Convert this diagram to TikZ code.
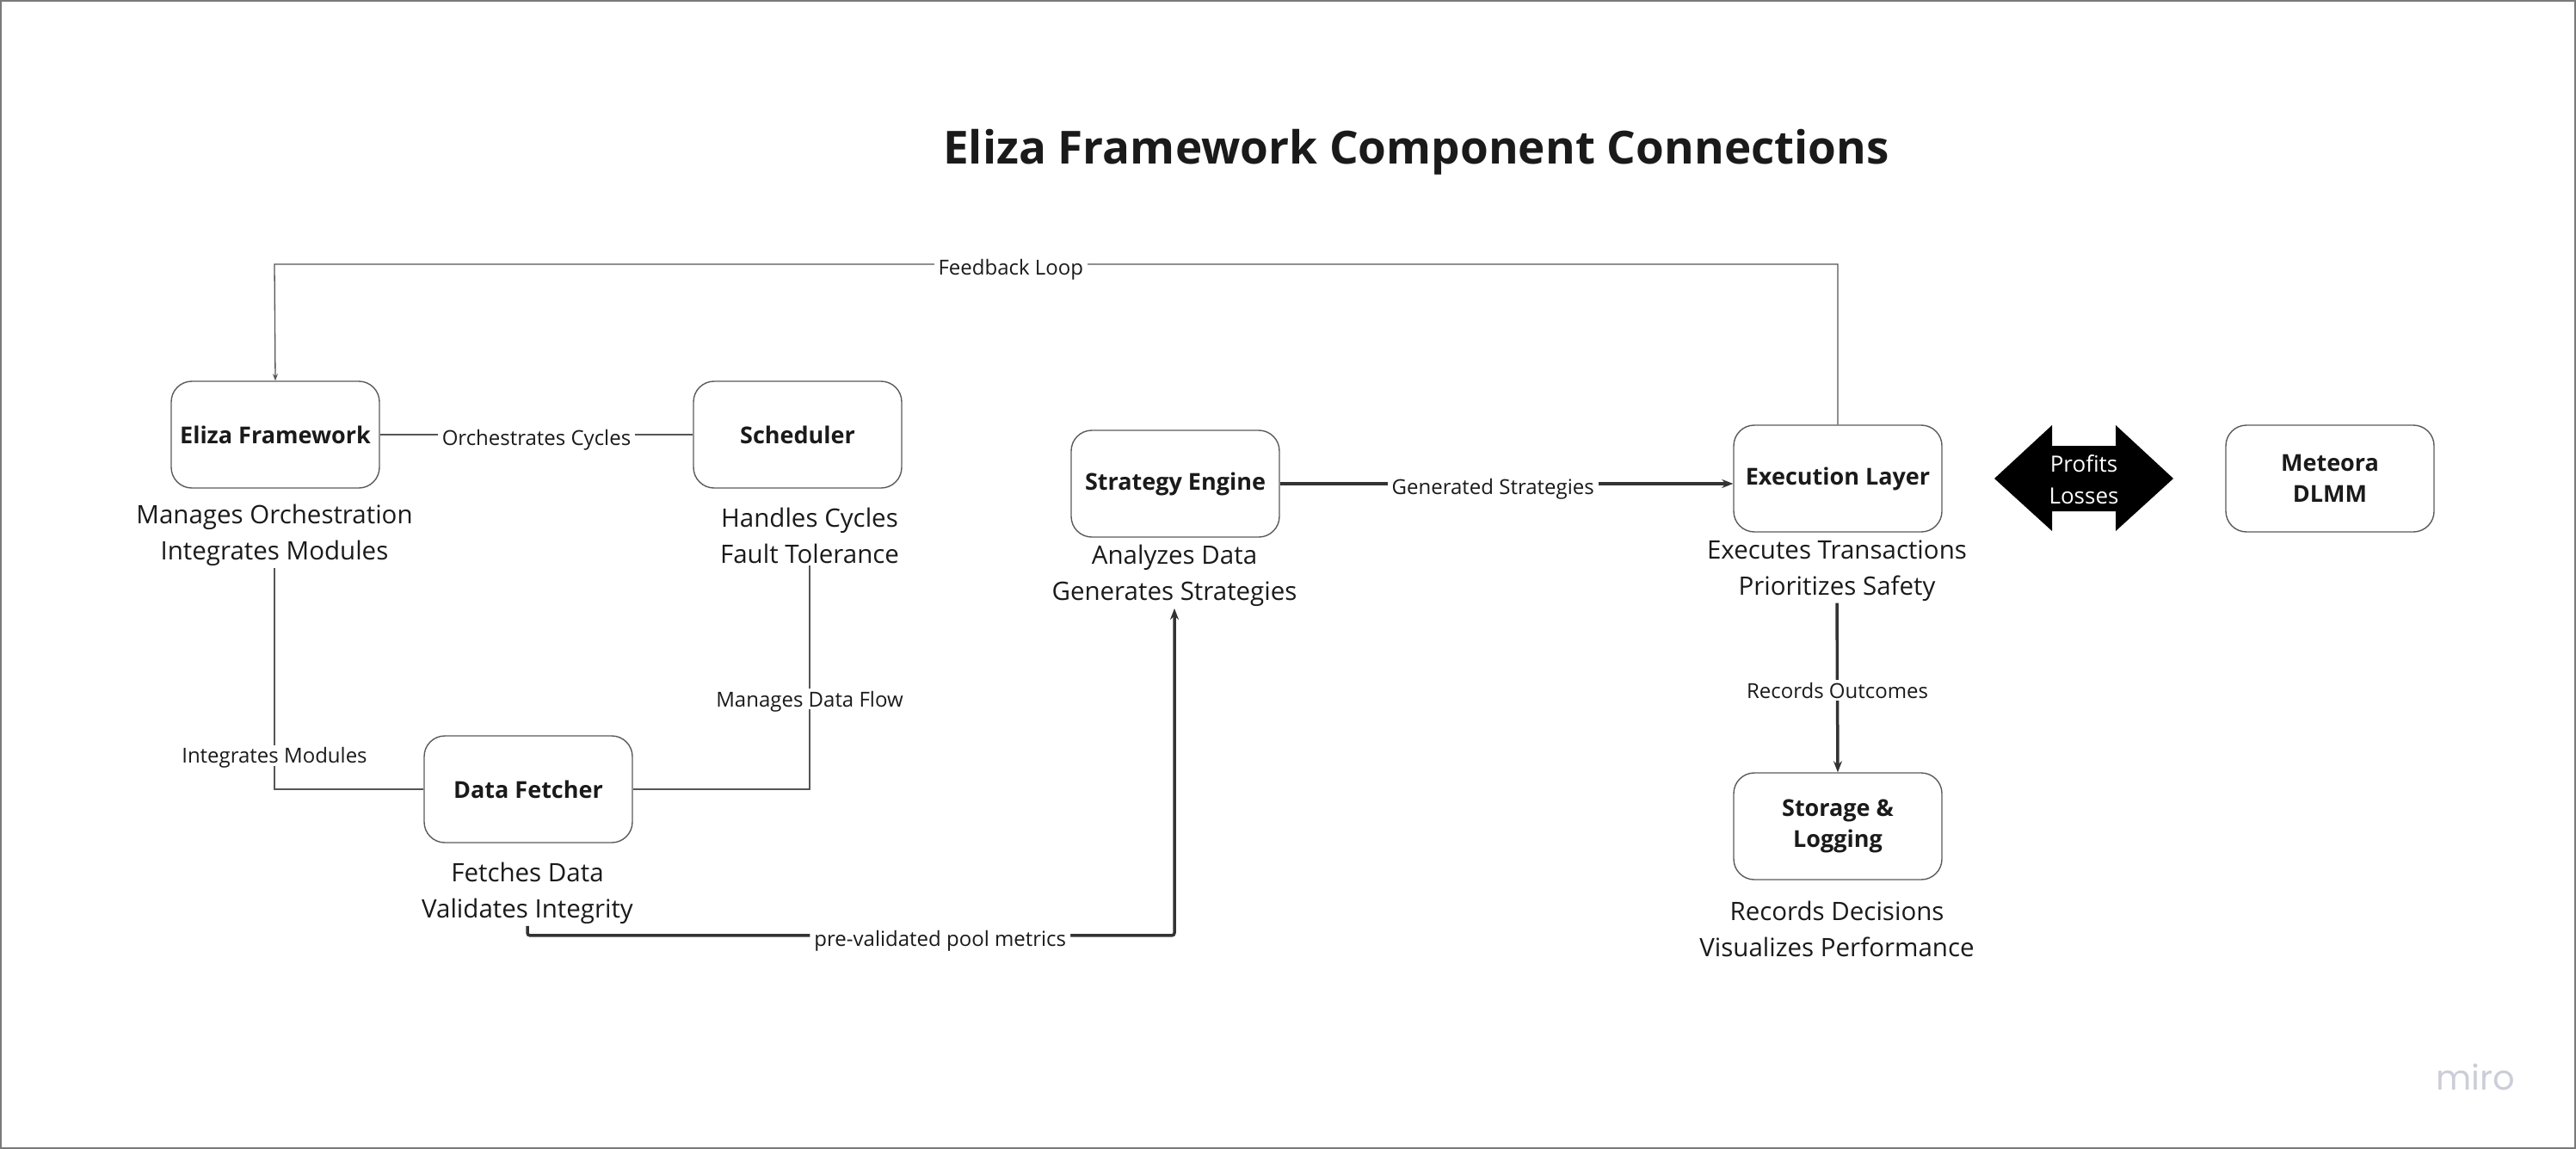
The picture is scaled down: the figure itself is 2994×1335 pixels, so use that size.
\documentclass[tikz,border=0pt]{standalone}
\usepackage{fontspec}
\setmainfont{Open Sans}
\newfontfamily\mirofont{Poppins}
\usetikzlibrary{arrows.meta}
\definecolor{ink}{HTML}{1A1A1A}
\definecolor{linegray}{HTML}{555555}
\definecolor{boxgray}{HTML}{5A5A5A}
\definecolor{darkline}{HTML}{333333}
\definecolor{mirogray}{HTML}{CDCDD8}
\definecolor{framegray}{HTML}{7A7A7A}
\tikzset{
  box/.style={draw=boxgray, line width=1.4pt, rounded corners=24pt, minimum width=242pt, minimum height=124pt, align=center, font=\fontsize{27}{36}\selectfont\bfseries, text=ink, inner sep=0pt},
  desc/.style={font=\fontsize{29.5}{42}\selectfont, align=center, text=ink, inner sep=2pt},
  elabel/.style={fill=white, font=\fontsize{24}{28}\selectfont, text=ink, inner xsep=5pt, inner ysep=3pt, text depth=0pt, yshift=-3pt},
  thinline/.style={draw=linegray, line width=1.3pt},
  thickline/.style={draw=darkline, line width=3.5pt},
  tip/.style={-{Stealth[length=13pt,width=10pt]}},
  smalltip/.style={-{Stealth[length=8pt,width=6pt]}}
}
\begin{document}
\begin{tikzpicture}[x=1pt,y=-1pt]
\useasboundingbox (0,0) rectangle (2994,1335);
\draw[draw=framegray, line width=2pt] (1,1) rectangle (2993,1334);

\node[font=\fontsize{53}{60}\selectfont\bfseries, text=ink] (title) at (1646,177) {Eliza Framework Component Connections};

% boxes
\node[box] (eliza) at (320,505) {Eliza Framework};
\node[box] (sched) at (927,505) {Scheduler};
\node[box] (fetch) at (614,917) {Data Fetcher};
\node[box] (strat) at (1366,562) {Strategy Engine};
\node[box] (exec) at (2136,556) {Execution Layer};
\node[box] (store) at (2136,960) {Storage \&\\Logging};
\node[box] (meteora) at (2708,556) {Meteora\\DLMM};

% descriptions
\node[desc] (elizaD) at (319,622) {Manages Orchestration\\Integrates Modules};
\node[desc] (schedD) at (941,622) {Handles Cycles\\Fault Tolerance};
\node[desc] (fetchD) at (613,1038) {Fetches Data\\Validates Integrity};
\node[desc] (stratD) at (1365,669) {Analyzes Data\\Generates Strategies};
\node[desc] (execD) at (2135,663) {Executes Transactions\\Prioritizes Safety};
\node[desc] (storeD) at (2135,1079) {Records Decisions\\Visualizes Performance};

% double arrow Profits / Losses
\fill[black] (2318,556) -- (2385,494) -- (2385,518) -- (2459,518) -- (2459,494) -- (2526,556)
  -- (2459,617) -- (2459,594) -- (2385,594) -- (2385,617) -- cycle;
\node[font=\fontsize{26}{37}\selectfont, text=white, align=center] (plText) at (2422,557) {Profits\\Losses};

% connectors
\coordinate (fbtop) at (319,307);
\draw[thinline, smalltip] (exec.north) -- (exec.north |- fbtop)
  -- node[elabel, pos=0.529]{Feedback Loop} (fbtop) -- (eliza.north);

\draw[thinline] (eliza.east) -- node[elabel]{Orchestrates Cycles} (sched.west);

\draw[thinline] (elizaD.south) |- node[elabel, pos=0.418]{Integrates Modules} (fetch.west);
\draw[thinline] (schedD.south) |- node[elabel, pos=0.293]{Manages Data Flow} (fetch.east);

\draw[thickline, tip, rounded corners=3pt] (fetchD.south) -- ++(0,11)
  -| node[elabel, pos=0.319]{pre-validated pool metrics} (stratD.south);

\draw[thickline, tip] (strat.east) -- node[elabel, pos=0.47]{Generated Strategies} (strat.east -| exec.west);

\draw[thickline, tip] (execD.south) -- node[elabel]{Records Outcomes} (store.north);

% logo
\node[font=\mirofont\fontsize{40}{40}\selectfont, text=mirogray] (miro) at (2877,1251) {miro};
\end{tikzpicture}
\end{document}
